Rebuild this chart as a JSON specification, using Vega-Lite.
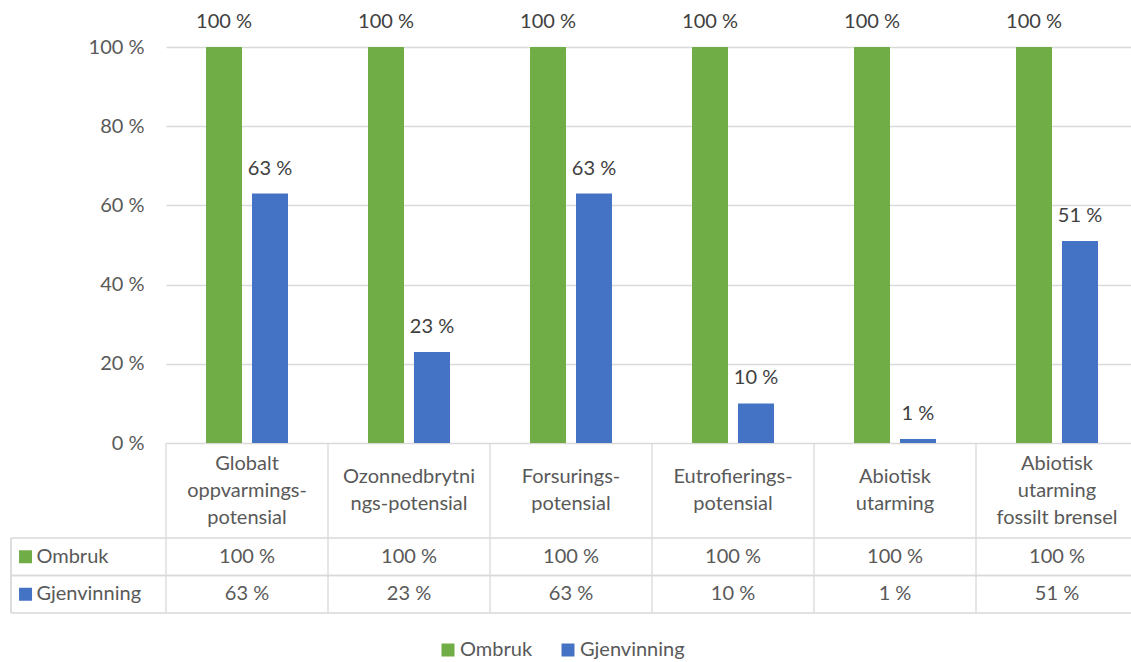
{
  "$schema": "https://vega.github.io/schema/vega-lite/v6.json",
  "padding": {"left": 10, "top": 12, "right": 0, "bottom": 0},
  "autosize": {"type": "pad"},
  "spacing": 0,
  "bounds": "flush",
  "config": {
    "font": "Lato",
    "view": {"stroke": null},
    "legend": {"padding": 0}
  },
  "datasets": {
    "bars": [
      {"category": "Globalt oppvarmings-potensial", "series": "Ombruk", "value": 100, "label": "100 %"},
      {"category": "Globalt oppvarmings-potensial", "series": "Gjenvinning", "value": 63, "label": "63 %"},
      {"category": "Ozonnedbrytnings-potensial", "series": "Ombruk", "value": 100, "label": "100 %"},
      {"category": "Ozonnedbrytnings-potensial", "series": "Gjenvinning", "value": 23, "label": "23 %"},
      {"category": "Forsurings-potensial", "series": "Ombruk", "value": 100, "label": "100 %"},
      {"category": "Forsurings-potensial", "series": "Gjenvinning", "value": 63, "label": "63 %"},
      {"category": "Eutrofierings-potensial", "series": "Ombruk", "value": 100, "label": "100 %"},
      {"category": "Eutrofierings-potensial", "series": "Gjenvinning", "value": 10, "label": "10 %"},
      {"category": "Abiotisk utarming", "series": "Ombruk", "value": 100, "label": "100 %"},
      {"category": "Abiotisk utarming", "series": "Gjenvinning", "value": 1, "label": "1 %"},
      {"category": "Abiotisk utarming fossilt brensel", "series": "Ombruk", "value": 100, "label": "100 %"},
      {"category": "Abiotisk utarming fossilt brensel", "series": "Gjenvinning", "value": 51, "label": "51 %"}
    ],
    "categories": [
      {"category": "Globalt oppvarmings-potensial", "header": "Globalt\noppvarmings-\npotensial"},
      {"category": "Ozonnedbrytnings-potensial", "header": "Ozonnedbrytni\nngs-potensial"},
      {"category": "Forsurings-potensial", "header": "Forsurings-\npotensial"},
      {"category": "Eutrofierings-potensial", "header": "Eutrofierings-\npotensial"},
      {"category": "Abiotisk utarming", "header": "Abiotisk\nutarming"},
      {"category": "Abiotisk utarming fossilt brensel", "header": "Abiotisk\nutarming\nfossilt brensel"}
    ],
    "series": [
      {"series": "Ombruk"},
      {"series": "Gjenvinning"}
    ]
  },
  "vconcat": [
    {
      "width": 1127,
      "height": 396,
      "data": {"name": "bars"},
      "encoding": {
        "x": {
          "field": "category", "type": "nominal", "sort": null,
          "scale": {
            "domain": ["Globalt oppvarmings-potensial", "Ozonnedbrytnings-potensial", "Forsurings-potensial", "Eutrofierings-potensial", "Abiotisk utarming", "Abiotisk utarming fossilt brensel"],
            "range": [155, 1127], "paddingInner": 0, "paddingOuter": 0
          },
          "axis": null
        },
        "xOffset": {
          "field": "series", "type": "nominal",
          "scale": {"domain": ["Ombruk", "Gjenvinning"], "paddingInner": 0.2174, "paddingOuter": 0.87}
        },
        "y": {
          "field": "value", "type": "quantitative",
          "scale": {"domain": [0, 100], "nice": false},
          "axis": {
            "orient": "left", "offset": -155, "title": null,
            "values": [0, 20, 40, 60, 80, 100],
            "labelExpr": "datum.value + ' %'",
            "domain": false, "ticks": false, "tickSize": 0,
            "labelPadding": 22, "labelFontSize": 20, "labelColor": "#595959",
            "grid": true, "gridColor": "#D9D9D9", "gridWidth": 1.3
          }
        }
      },
      "layer": [
        {
          "mark": {"type": "bar"},
          "encoding": {
            "color": {
              "field": "series", "type": "nominal",
              "scale": {"domain": ["Ombruk", "Gjenvinning"], "range": ["#70AD47", "#4472C4"]},
              "legend": {
                "orient": "none", "legendX": 427, "legendY": 593,
                "direction": "horizontal", "title": null,
                "symbolType": "square", "symbolSize": 169, "symbolStrokeWidth": 0,
                "labelFontSize": 20, "labelColor": "#595959",
                "columnPadding": 25, "labelOffset": 2
              }
            }
          }
        },
        {
          "mark": {"type": "text", "dy": -25, "fontSize": 20, "color": "#404040", "baseline": "middle"},
          "encoding": {"text": {"field": "label"}}
        }
      ]
    },
    {
      "width": 1127,
      "height": 95,
      "data": {"name": "categories"},
      "layer": [
        {
          "mark": {"type": "rule", "color": "#D9D9D9", "strokeWidth": 1.3},
          "encoding": {
            "x": {
              "field": "category", "type": "nominal", "sort": null, "bandPosition": 0,
              "scale": {
                "domain": ["Globalt oppvarmings-potensial", "Ozonnedbrytnings-potensial", "Forsurings-potensial", "Eutrofierings-potensial", "Abiotisk utarming", "Abiotisk utarming fossilt brensel"],
                "range": [155, 1127], "paddingInner": 0, "paddingOuter": 0
              },
              "axis": null
            }
          }
        },
        {
          "transform": [{"filter": "split(datum.header, '\\n').length === 3"}],
          "mark": {"type": "text", "lineBreak": "\n", "lineHeight": 27, "fontSize": 20, "color": "#595959", "baseline": "middle", "dy": -27},
          "encoding": {
            "x": {
              "field": "category", "type": "nominal", "sort": null,
              "scale": {
                "domain": ["Globalt oppvarmings-potensial", "Ozonnedbrytnings-potensial", "Forsurings-potensial", "Eutrofierings-potensial", "Abiotisk utarming", "Abiotisk utarming fossilt brensel"],
                "range": [155, 1127], "paddingInner": 0, "paddingOuter": 0
              },
              "axis": null
            },
            "text": {"field": "header"}
          }
        },
        {
          "transform": [{"filter": "split(datum.header, '\\n').length === 2"}],
          "mark": {"type": "text", "lineBreak": "\n", "lineHeight": 27, "fontSize": 20, "color": "#595959", "baseline": "middle", "dy": -13.5},
          "encoding": {
            "x": {
              "field": "category", "type": "nominal", "sort": null,
              "scale": {
                "domain": ["Globalt oppvarmings-potensial", "Ozonnedbrytnings-potensial", "Forsurings-potensial", "Eutrofierings-potensial", "Abiotisk utarming", "Abiotisk utarming fossilt brensel"],
                "range": [155, 1127], "paddingInner": 0, "paddingOuter": 0
              },
              "axis": null
            },
            "text": {"field": "header"}
          }
        }
      ]
    },
    {
      "width": 1127,
      "height": 75,
      "layer": [
        {
          "data": {"name": "series"},
          "mark": {"type": "rule", "color": "#D9D9D9", "strokeWidth": 1.3},
          "encoding": {
            "y": {"field": "series", "type": "nominal", "bandPosition": 0,
              "scale": {"domain": ["Ombruk", "Gjenvinning"], "paddingInner": 0, "paddingOuter": 0}, "axis": null}
          }
        },
        {
          "data": {"name": "series"},
          "mark": {"type": "rule", "color": "#D9D9D9", "strokeWidth": 1.3},
          "encoding": {
            "y": {"field": "series", "type": "nominal", "bandPosition": 1,
              "scale": {"domain": ["Ombruk", "Gjenvinning"], "paddingInner": 0, "paddingOuter": 0}, "axis": null}
          }
        },
        {
          "data": {"name": "categories"},
          "mark": {"type": "rule", "color": "#D9D9D9", "strokeWidth": 1.3},
          "encoding": {
            "x": {
              "field": "category", "type": "nominal", "sort": null, "bandPosition": 0,
              "scale": {
                "domain": ["_", "Globalt oppvarmings-potensial", "Ozonnedbrytnings-potensial", "Forsurings-potensial", "Eutrofierings-potensial", "Abiotisk utarming", "Abiotisk utarming fossilt brensel"],
                "range": [-7, 1127], "paddingInner": 0, "paddingOuter": 0
              },
              "axis": null
            }
          }
        },
        {
          "data": {"name": "series"},
          "mark": {"type": "rule", "color": "#D9D9D9", "strokeWidth": 1.3},
          "encoding": {
            "x": {
              "datum": "_", "type": "nominal", "bandPosition": 0.0432,
              "scale": {
                "domain": ["_", "Globalt oppvarmings-potensial", "Ozonnedbrytnings-potensial", "Forsurings-potensial", "Eutrofierings-potensial", "Abiotisk utarming", "Abiotisk utarming fossilt brensel"],
                "range": [-7, 1127], "paddingInner": 0, "paddingOuter": 0
              },
              "axis": null
            }
          }
        },
        {
          "data": {"name": "bars"},
          "mark": {"type": "text", "fontSize": 20, "color": "#595959", "baseline": "middle"},
          "encoding": {
            "x": {
              "field": "category", "type": "nominal", "sort": null,
              "scale": {
                "domain": ["_", "Globalt oppvarmings-potensial", "Ozonnedbrytnings-potensial", "Forsurings-potensial", "Eutrofierings-potensial", "Abiotisk utarming", "Abiotisk utarming fossilt brensel"],
                "range": [-7, 1127], "paddingInner": 0, "paddingOuter": 0
              },
              "axis": null
            },
            "y": {"field": "series", "type": "nominal",
              "scale": {"domain": ["Ombruk", "Gjenvinning"], "paddingInner": 0, "paddingOuter": 0}, "axis": null},
            "text": {"field": "label"}
          }
        },
        {
          "data": {"name": "series"},
          "mark": {"type": "point", "shape": "square", "filled": true, "opacity": 1, "size": 169},
          "encoding": {
            "x": {
              "datum": "_", "type": "nominal", "bandPosition": 0.133,
              "scale": {
                "domain": ["_", "Globalt oppvarmings-potensial", "Ozonnedbrytnings-potensial", "Forsurings-potensial", "Eutrofierings-potensial", "Abiotisk utarming", "Abiotisk utarming fossilt brensel"],
                "range": [-7, 1127], "paddingInner": 0, "paddingOuter": 0
              },
              "axis": null
            },
            "y": {"field": "series", "type": "nominal",
              "scale": {"domain": ["Ombruk", "Gjenvinning"], "paddingInner": 0, "paddingOuter": 0}, "axis": null},
            "color": {
              "field": "series", "type": "nominal",
              "scale": {"domain": ["Ombruk", "Gjenvinning"], "range": ["#70AD47", "#4472C4"]}
            }
          }
        },
        {
          "data": {"name": "series"},
          "mark": {"type": "text", "fontSize": 20, "color": "#595959", "baseline": "middle", "align": "left"},
          "encoding": {
            "x": {
              "datum": "_", "type": "nominal", "bandPosition": 0.2,
              "scale": {
                "domain": ["_", "Globalt oppvarmings-potensial", "Ozonnedbrytnings-potensial", "Forsurings-potensial", "Eutrofierings-potensial", "Abiotisk utarming", "Abiotisk utarming fossilt brensel"],
                "range": [-7, 1127], "paddingInner": 0, "paddingOuter": 0
              },
              "axis": null
            },
            "y": {"field": "series", "type": "nominal",
              "scale": {"domain": ["Ombruk", "Gjenvinning"], "paddingInner": 0, "paddingOuter": 0}, "axis": null},
            "text": {"field": "series"}
          }
        }
      ]
    }
  ],
  "resolve": {"scale": {"color": "shared"}}
}
